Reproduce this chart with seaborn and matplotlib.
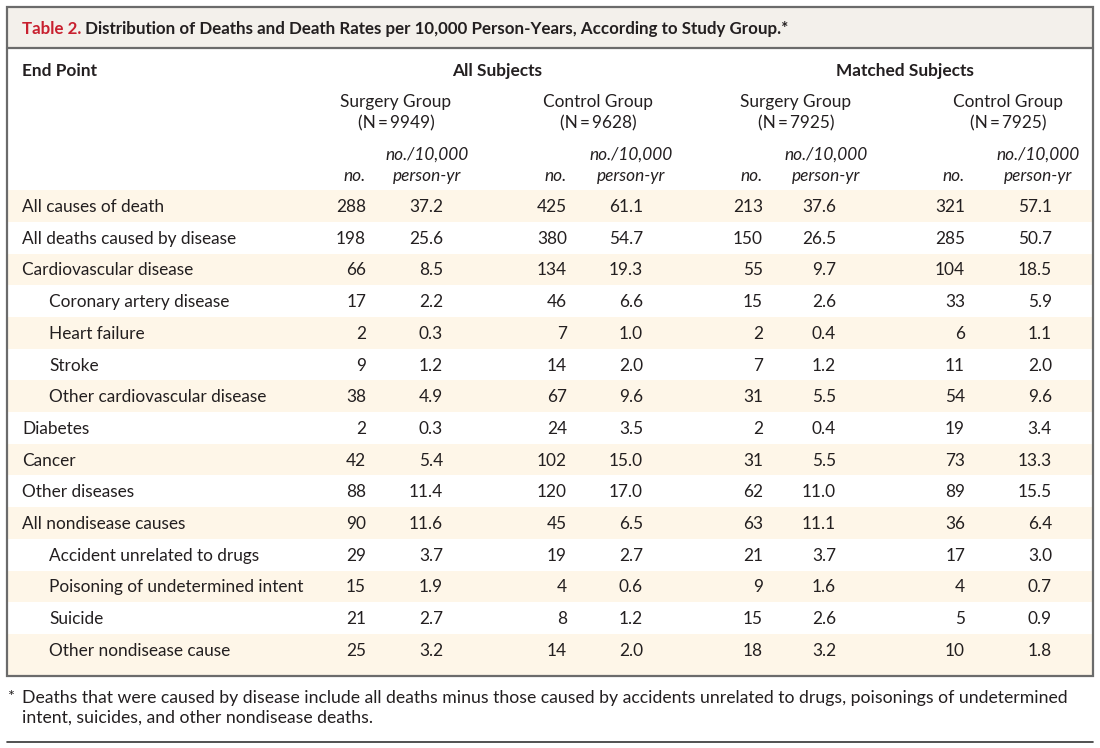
import matplotlib
matplotlib.use("Agg")
import matplotlib.pyplot as plt
import seaborn as sns
import pandas as pd
from matplotlib.patches import Rectangle

# table data
end_points = ["All causes of death", "All deaths caused by disease", "Cardiovascular disease",
              "Coronary artery disease", "Heart failure", "Stroke", "Other cardiovascular disease",
              "Diabetes", "Cancer", "Other diseases", "All nondisease causes",
              "Accident unrelated to drugs", "Poisoning of undetermined intent", "Suicide",
              "Other nondisease cause"]
indented = [0, 0, 0, 1, 1, 1, 1, 0, 0, 0, 0, 1, 1, 1, 1]

all_surg_no = [288, 198, 66, 17, 2, 9, 38, 2, 42, 88, 90, 29, 15, 21, 25]
all_surg_rate = [37.2, 25.6, 8.5, 2.2, 0.3, 1.2, 4.9, 0.3, 5.4, 11.4, 11.6, 3.7, 1.9, 2.7, 3.2]
all_ctrl_no = [425, 380, 134, 46, 7, 14, 67, 24, 102, 120, 45, 19, 4, 8, 14]
all_ctrl_rate = [61.1, 54.7, 19.3, 6.6, 1.0, 2.0, 9.6, 3.5, 15.0, 17.0, 6.5, 2.7, 0.6, 1.2, 2.0]
m_surg_no = [213, 150, 55, 15, 2, 7, 31, 2, 31, 62, 63, 21, 9, 15, 18]
m_surg_rate = [37.6, 26.5, 9.7, 2.6, 0.4, 1.2, 5.5, 0.4, 5.5, 11.0, 11.1, 3.7, 1.6, 2.6, 3.2]
m_ctrl_no = [321, 285, 104, 33, 6, 11, 54, 19, 73, 89, 36, 17, 4, 5, 10]
m_ctrl_rate = [57.1, 50.7, 18.5, 5.9, 1.1, 2.0, 9.6, 3.4, 13.3, 15.5, 6.4, 3.0, 0.7, 0.9, 1.8]

subject_sets = ["All Subjects", "Matched Subjects"]
group_names = ["Surgery Group", "Control Group", "Surgery Group", "Control Group"]
group_n = [9949, 9628, 7925, 7925]

title_tag = "Table 2."
title_text = " Distribution of Deaths and Death Rates per 10,000 Person-Years, According to Study Group.*"
footnote = ["*", "Deaths that were caused by disease include all deaths minus those caused by accidents unrelated to drugs, poisonings of undetermined",
            "intent, suicides, and other nondisease deaths."]

df = pd.DataFrame({"end_point": end_points, "indent": indented,
                   "c0": all_surg_no, "r0": all_surg_rate, "c1": all_ctrl_no, "r1": all_ctrl_rate,
                   "c2": m_surg_no, "r2": m_surg_rate, "c3": m_ctrl_no, "r3": m_ctrl_rate})

sns.set_theme(style="white")
plt.rcParams['font.family'] = ['Lato', 'DejaVu Sans']

ink = "#231f20"
stripe = "#fef6e8"
band = "#f3f0eb"
edge = "#6b6b6b"
fs = 12.4
fs_title = 12.2
fs_note = 12.7

fig = plt.figure(figsize=(11, 7.48), dpi=100)
ax = fig.add_axes([0, 0, 1, 1])
ax.set_xlim(0, 1100)
ax.set_ylim(748, 0)
ax.axis("off")

# layout (pixels)
no_right = [366, 567, 763, 965]
rate_right = [443, 643, 836, 1052]
group_center = [396, 598, 796, 1008]
rate_head_center = [427, 631, 826, 1038]
set_center = [497, 905]
row0 = 206
row_h = 31.7

# title band and frame
ax.add_patch(Rectangle((7, 7), 1086, 41, facecolor=band, edgecolor="none"))
for i in range(len(df)):
    if i % 2 == 0:
        y0 = row0 + row_h * i - row_h / 2
        h = row_h if i < len(df) - 1 else 676 - y0
        ax.add_patch(Rectangle((8, y0), 1084, h, facecolor=stripe, edgecolor="none"))
ax.add_patch(Rectangle((7, 7), 1086, 669, facecolor="none", edgecolor=edge, lw=1.6))
ax.plot([7, 1093], [48, 48], color=edge, lw=1.6)

t1 = ax.text(22, 34, title_tag, color="#c8202f", fontsize=fs_title, fontweight="bold", va="baseline")
ax.annotate(title_text, xy=(1, 0), xycoords=t1, color=ink, fontsize=fs_title, fontweight="bold",
            va="bottom", ha="left")

# headers
ax.text(22, 76, "End Point", color=ink, fontsize=fs, fontweight="bold", va="baseline")
for name, xc in zip(subject_sets, set_center):
    ax.text(xc, 76, name, color=ink, fontsize=fs, fontweight="bold", va="baseline", ha="center")
for k in range(4):
    ax.text(group_center[k], 107, group_names[k], color=ink, fontsize=fs, va="baseline", ha="center")
    ax.text(group_center[k], 128, f"(N\u2009=\u2009{group_n[k]})", color=ink, fontsize=fs,
            va="baseline", ha="center")
    ax.text(rate_head_center[k], 160, "no./10,000", color=ink, fontsize=fs, style="italic",
            va="baseline", ha="center")
    ax.text(rate_head_center[k], 181, "person-yr", color=ink, fontsize=fs, style="italic",
            va="baseline", ha="center")
    ax.text(no_right[k], 181, "no.", color=ink, fontsize=fs, style="italic",
            va="baseline", ha="right")

# body rows
for i, row in df.iterrows():
    yb = row0 + row_h * i + 6
    ax.text(22 + 27 * row["indent"], yb, row["end_point"], color=ink, fontsize=fs, va="baseline")
    for k in range(4):
        ax.text(no_right[k], yb, f"{row[f'c{k}']}", color=ink, fontsize=fs, va="baseline", ha="right")
        ax.text(rate_right[k], yb, f"{row[f'r{k}']:.1f}", color=ink, fontsize=fs, va="baseline", ha="right")

# footnote
ax.text(8, 701, footnote[0], color=ink, fontsize=fs_note - 1, va="baseline")
ax.text(22, 703, footnote[1], color=ink, fontsize=fs_note, va="baseline")
ax.text(22, 723, footnote[2], color=ink, fontsize=fs_note, va="baseline")
ax.plot([7, 1093], [742, 742], color="#333333", lw=1.2)

fig.savefig("out.png", dpi=100)
